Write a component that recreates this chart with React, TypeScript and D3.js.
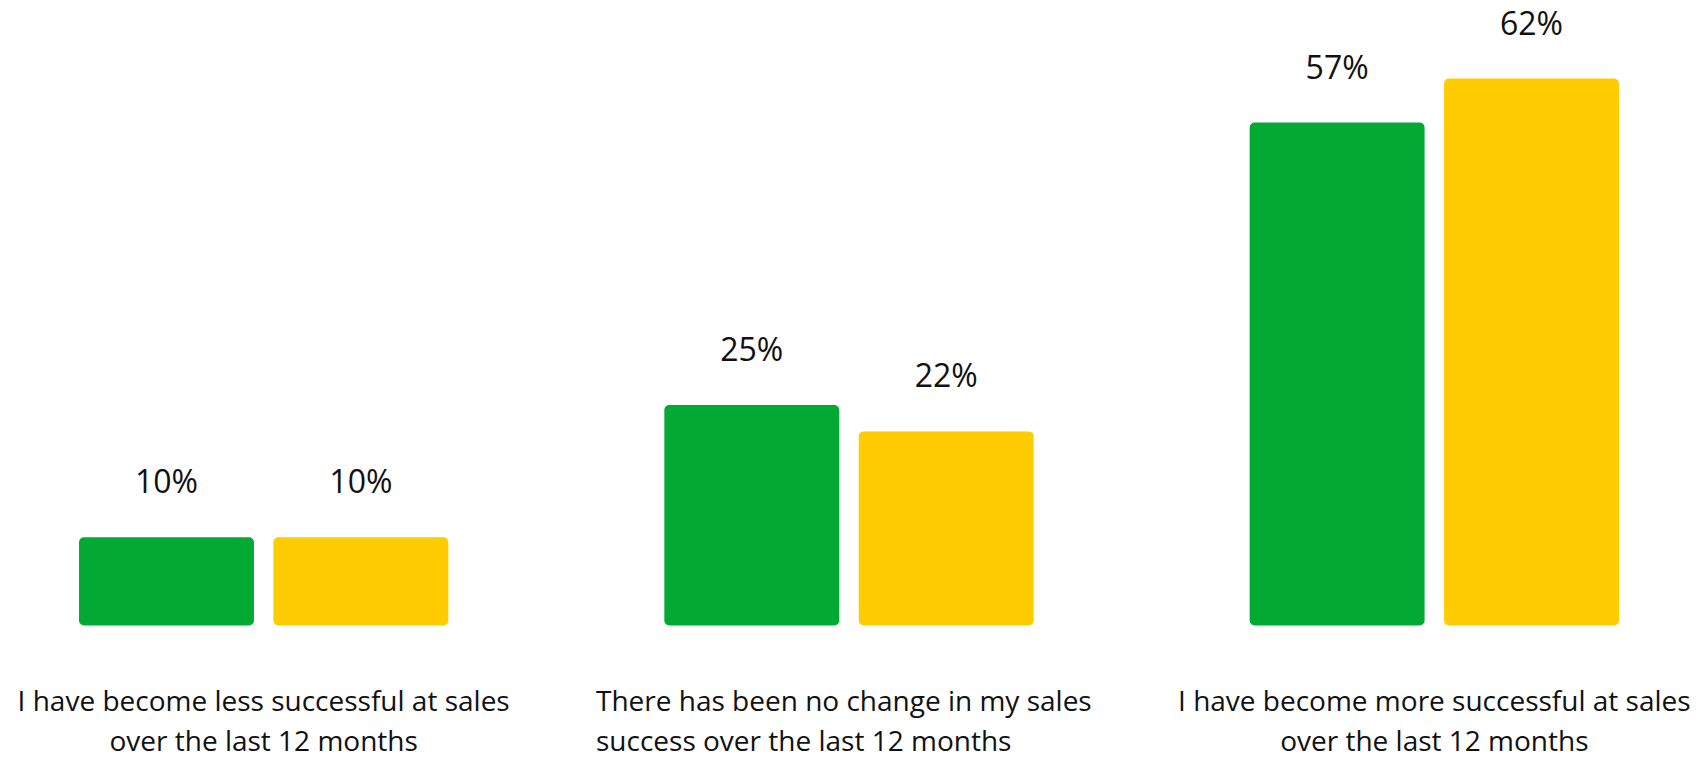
import React from "react";
import * as d3 from "d3";

const categories: string[][] = [
  ["I have become less successful at sales", "over the last 12 months"],
  ["There has been no change in my sales", "success over the last 12 months"],
  ["I have become more successful at sales", "over the last 12 months"],
];
const categoryAlign: string[] = ["middle", "start", "middle"];
const seriesNames = ["A", "B"];
const seriesA = [10, 25, 57];
const seriesB = [10, 22, 62];
const colors = ["#02A932", "#FFCC02"];

const W = 1706;
const H = 758;

export default function App() {
  const x0 = d3
    .scaleBand<number>()
    .domain(d3.range(categories.length))
    .range([79, 1619])
    .paddingInner(0.369)
    .paddingOuter(0);
  const x1 = d3
    .scaleBand<string>()
    .domain(seriesNames)
    .range([0, x0.bandwidth()])
    .paddingInner(0.1);
  const y = d3.scaleLinear().domain([0, 62]).range([625.5, 78.5]);
  const values = [seriesA, seriesB];
  const font = "'Open Sans', 'Noto Sans', sans-serif";

  return (
    <svg
      width={W}
      height={H}
      style={{ position: "absolute", left: 0, top: 0, background: "#fff" }}
    >
      {categories.map((lines, i) => {
        const gx = x0(i)!;
        const cx = gx + x0.bandwidth() / 2;
        return (
          <g key={i}>
            {seriesNames.map((s, j) => {
              const v = values[j][i];
              const bx = gx + x1(s)!;
              const by = y(v);
              return (
                <g key={s}>
                  <rect
                    x={bx}
                    y={by}
                    width={x1.bandwidth()}
                    height={y(0) - by}
                    rx={5}
                    ry={5}
                    fill={colors[j]}
                  />
                  <text
                    x={bx + x1.bandwidth() / 2}
                    y={by - 44}
                    textAnchor="middle"
                    fontFamily={font}
                    fontSize={32}
                    fill="#111"
                  >
                    {v}%
                  </text>
                </g>
              );
            })}
            <text
              fontFamily={font}
              fontSize={28}
              fill="#111"
              textAnchor={categoryAlign[i] as any}
            >
              {lines.map((ln, k) => (
                <tspan
                  key={k}
                  x={categoryAlign[i] === "start" ? cx - 253 : cx}
                  y={711 + k * 40}
                >
                  {ln}
                </tspan>
              ))}
            </text>
          </g>
        );
      })}
    </svg>
  );
}
